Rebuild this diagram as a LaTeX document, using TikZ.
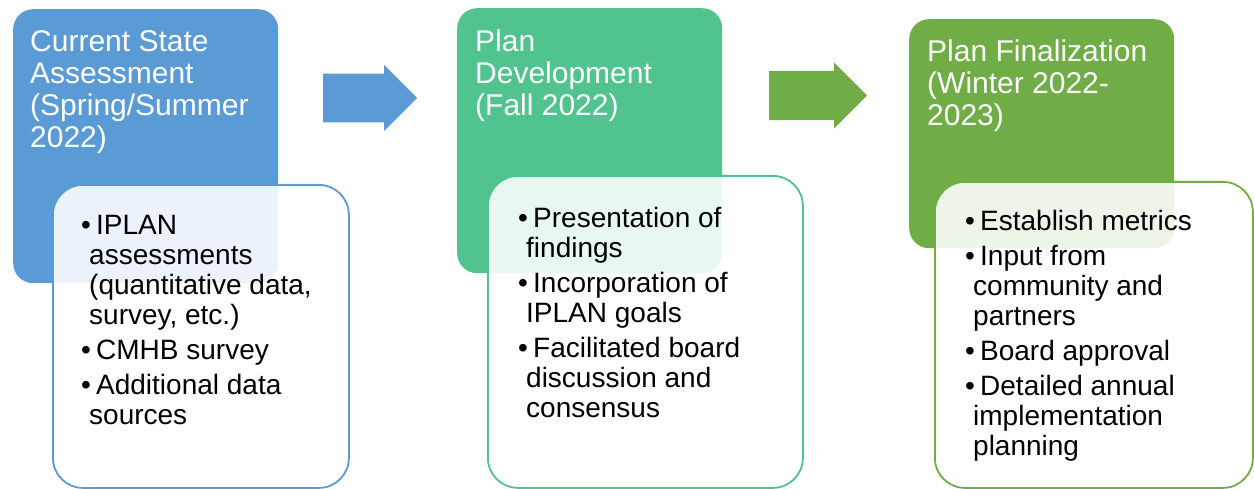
\documentclass[tikz,border=0pt]{standalone}
\usepackage{fontspec}
\setmainfont{Liberation Sans}
\usepackage{xcolor}
\usepackage{tikz}
\usetikzlibrary{shapes.arrows}

\definecolor{stageblue}{HTML}{5B9BD5}
\definecolor{stageteal}{HTML}{50C38E}
\definecolor{stagegreen}{HTML}{70AD47}

% bullet with hanging indent
\newcommand{\itm}[1]{\makebox[15pt][l]{\textbullet}#1}
\newcommand{\cont}{\hspace*{8pt}}

\begin{document}
\begin{tikzpicture}[x=1pt,y=-1pt,
    head/.style={rounded corners=20pt, minimum width=265pt, anchor=north west, inner sep=0pt},
    body/.style={draw, line width=1.8pt, rounded corners=30pt, fill=white, fill opacity=0.88, anchor=north west, inner sep=0pt},
    title/.style={anchor=north west, inner sep=0pt, align=left, text=white, font=\fontsize{30}{32}\selectfont},
    items/.style={anchor=north west, inner sep=0pt, align=left, font=\fontsize{28}{30}\selectfont},
    blockarrow/.style={single arrow, single arrow tip angle=90, single arrow head indent=0pt, inner xsep=0pt, minimum width=66pt, anchor=tail}]

    \useasboundingbox (0,0) rectangle (1254,489);

    % current state
    \node[head, fill=stageblue, minimum height=274pt] (curhead) at (13,9) {};
    \node[body, draw=stageblue, minimum width=296pt, minimum height=303pt] (curbody) at (52,184) {};
    \node[title] (curtitle) at (30,30) {Current State\\Assessment\\(Spring/Summer\\2022)};
    \node[items] (curitems) at (81,215) {\itm{IPLAN}\\ \cont assessments\\ \cont (quantitative data,\\ \cont survey, etc.)\\[5pt]
        \itm{CMHB survey}\\[5pt] \itm{Additional data}\\ \cont sources};

    \node[blockarrow, fill=stageblue, inner ysep=20pt, minimum height=94pt] (arrA) at (323,98) {};

    % plan development
    \node[head, fill=stageteal, minimum height=265pt] (devhead) at (457,8) {};
    \node[body, draw=stageteal, minimum width=315pt, minimum height=312pt] (devbody) at (487,175) {};
    \node[title] (devtitle) at (475,30) {Plan\\Development\\(Fall 2022)};
    \node[items] (devitems) at (518,207) {\itm{Presentation of}\\ \cont findings\\[5pt]
        \itm{Incorporation of}\\ \cont IPLAN goals\\[5pt] \itm{Facilitated board}\\ \cont discussion and\\ \cont consensus};

    \node[blockarrow, fill=stagegreen, inner ysep=20.5pt, minimum height=98pt] (arrB) at (769,95.5) {};

    % plan finalization
    \node[head, fill=stagegreen, minimum height=229pt] (finhead) at (909,19) {};
    \node[body, draw=stagegreen, minimum width=318pt, minimum height=306pt] (finbody) at (934,181) {};
    \node[title] (fintitle) at (927,40) {Plan Finalization\\(Winter 2022-\\2023)};
    \node[items] (finitems) at (965,210) {\itm{Establish metrics}\\[5pt]
        \itm{Input from}\\ \cont community and\\ \cont partners\\[5pt] \itm{Board approval}\\[5pt]
        \itm{Detailed annual}\\ \cont implementation\\ \cont planning};
\end{tikzpicture}
\end{document}
